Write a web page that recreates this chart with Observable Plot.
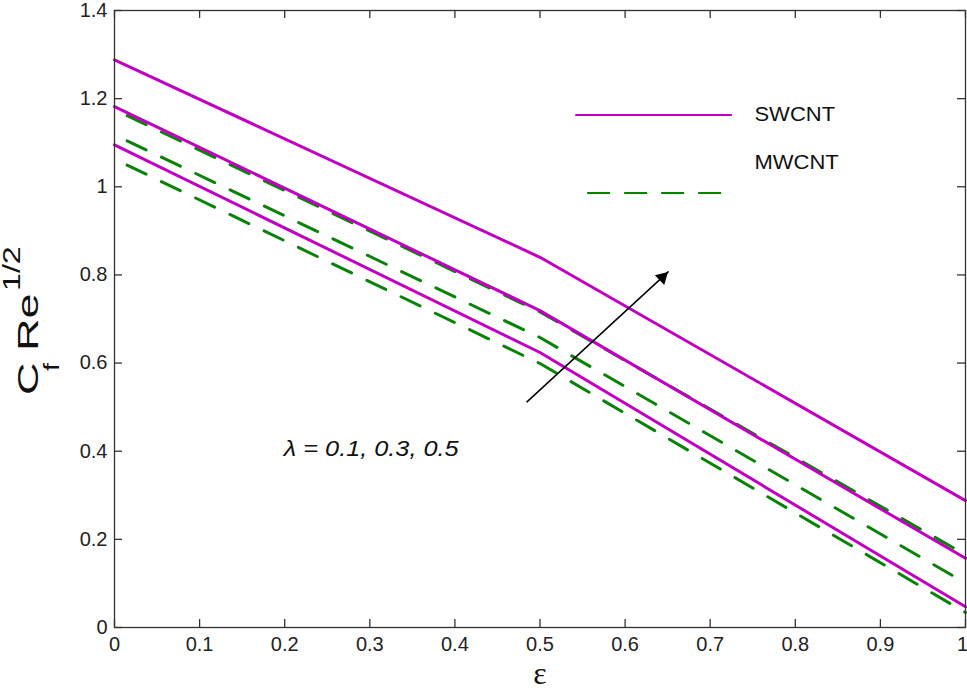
<!DOCTYPE html>
<html><head><meta charset="utf-8">
<script src="https://cdn.jsdelivr.net/npm/d3@7"></script>
<script src="https://cdn.jsdelivr.net/npm/@observablehq/plot@0.6"></script>
<style>body{margin:0;background:#fff} #chart svg{display:block}</style>
</head><body><div id="chart"></div>
<script>
// x values (epsilon)
const eps = [0, 0.5, 1];
// SWCNT skin friction for lambda = 0.1, 0.3, 0.5
const swcnt_l01 = [1.095, 0.624, 0.047];
const swcnt_l03 = [1.182, 0.719, 0.157];
const swcnt_l05 = [1.288, 0.840, 0.288];
// MWCNT skin friction for lambda = 0.1, 0.3, 0.5
const mwcnt_l01 = [1.063, 0.599, 0.034];
const mwcnt_l03 = [1.118, 0.658, 0.101];
const mwcnt_l05 = [1.175, 0.716, 0.165];
// ticks
const xTicks = [0, 0.1, 0.2, 0.3, 0.4, 0.5, 0.6, 0.7, 0.8, 0.9, 1];
const yTicks = [0, 0.2, 0.4, 0.6, 0.8, 1, 1.2, 1.4];

const toRows = (vals, name) => eps.map((e, i) => ({eps: e, cf: vals[i], series: name}));
const swRows = [...toRows(swcnt_l01, "s01"), ...toRows(swcnt_l03, "s03"), ...toRows(swcnt_l05, "s05")];
const mwRows = [...toRows(mwcnt_l01, "m01"), ...toRows(mwcnt_l03, "m03"), ...toRows(mwcnt_l05, "m05")];

const MAG = "#c000c0", GRN = "#0a820a", AX = "#333";
const one = [0];
const fmt = (d) => `${d}`;
// inward tick lengths (in data units, ~8px)
const tx = 0.0094, ty = 0.018;

const chart = Plot.plot({
  width: 967, height: 694,
  marginLeft: 114, marginRight: 2, marginTop: 10, marginBottom: 67,
  style: {fontFamily: "'Liberation Sans', Arial, sans-serif", fontSize: "20px", color: "#222", background: "#fff"},
  x: {domain: [0, 1], label: null},
  y: {domain: [0, 1.4], label: null},
  marks: [
    Plot.line(mwRows, {x: "eps", y: "cf", z: "series", stroke: GRN, strokeWidth: 3, strokeDasharray: "21,17", strokeDashoffset: 24}),
    Plot.line(swRows, {x: "eps", y: "cf", z: "series", stroke: MAG, strokeWidth: 3}),
    // legend
    Plot.ruleY(one, {y: 1.163, x1: 0.542, x2: 0.726, stroke: MAG, strokeWidth: 2}),
    Plot.ruleY(one, {y: 0.986, x1: 0.556, x2: 0.715, stroke: GRN, strokeWidth: 2, strokeDasharray: "23,14"}),
    Plot.text(["SWCNT"], {x: 0.752, y: 1.163, textAnchor: "start", fontSize: 20, fill: "#111"}),
    Plot.text(["MWCNT"], {x: 0.752, y: 1.054, textAnchor: "start", fontSize: 20, fill: "#111"}),
    // annotation
    Plot.text(["λ = 0.1, 0.3, 0.5"], {x: 0.199, y: 0.406, textAnchor: "start", fontSize: 22, fontStyle: "italic", fill: "#111"}),
    Plot.arrow(one, {x1: 0.4847, y1: 0.512, x2: 0.6506, y2: 0.807, headLength: 0, strokeWidth: 1.5, stroke: "#000"}),
    Plot.dot(one, {x: 0.6506, y: 0.807, symbol: "triangle", r: 5, fill: "#000", stroke: "none", rotate: 46, dx: -5.8, dy: 5.5}),
    // inward ticks on all four sides
    Plot.ruleX(xTicks, {y1: 0, y2: ty, stroke: AX, strokeWidth: 1.3}),
    Plot.ruleX(xTicks, {y1: 1.4, y2: 1.4 - ty, stroke: AX, strokeWidth: 1.3}),
    Plot.ruleY(yTicks, {x1: 0, x2: tx, stroke: AX, strokeWidth: 1.3}),
    Plot.ruleY(yTicks, {x1: 1, x2: 1 - tx, stroke: AX, strokeWidth: 1.3}),
    // frame and tick labels
    Plot.frame({stroke: AX, strokeWidth: 1.3}),
    Plot.axisX(xTicks.slice(0, -1), {tickSize: 0, tickPadding: 9, label: null, fontSize: 20, tickFormat: fmt}),
    Plot.axisX(xTicks.slice(-1), {tickSize: 0, tickPadding: 9, label: null, fontSize: 20, tickFormat: fmt, dx: -3}),
    Plot.axisY(yTicks, {tickSize: 0, tickPadding: 7, label: null, fontSize: 20, tickFormat: fmt}),
    // axis titles
    Plot.text(["ε"], {frameAnchor: "bottom", dy: 56, fontSize: 32, fontFamily: "'Liberation Serif', serif", fill: "#111"}),
    Plot.text(["C"], {frameAnchor: "left", rotate: -90, textAnchor: "start", dx: -86, dy: 76, fontSize: 30, fill: "#111"}),
    Plot.text(["f"], {frameAnchor: "left", rotate: -90, textAnchor: "start", dx: -63, dy: 52, fontSize: 22, fill: "#111"}),
    Plot.text(["Re"], {frameAnchor: "left", rotate: -90, textAnchor: "start", dx: -86, dy: 32, fontSize: 30, fill: "#111"}),
    Plot.text(["1/2"], {frameAnchor: "left", rotate: -90, textAnchor: "start", dx: -102, dy: -28, fontSize: 23, fill: "#111"})
  ]
});

// stretch some labels along their reading direction, as in the reference
const stretch = {"C": 1.5, "f": 1.3, "Re": 1.5, "1/2": 1.4, "λ = 0.1, 0.3, 0.5": 1.15, "SWCNT": 1.1, "MWCNT": 1.1};
d3.select(chart).selectAll("text").each(function() {
  const t = this.textContent;
  if (stretch[t]) {
    const tr = this.getAttribute("transform") || "";
    this.setAttribute("transform", tr + ` scale(${stretch[t]},1)`);
  }
});
document.getElementById("chart").append(chart);
</script>
</body></html>
